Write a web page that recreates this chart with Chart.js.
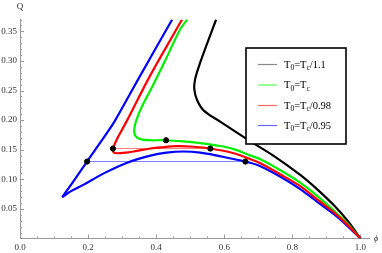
<!DOCTYPE html>
<html>
<head>
<meta charset="utf-8">
<script src="https://cdn.jsdelivr.net/npm/chart.js@4"></script>
<style>
  html, body { margin: 0; padding: 0; background: #fff; }
  canvas { display: block; }
</style>
</head>
<body>
<canvas id="phaseChart" width="382" height="253"></canvas>
<script>
// axis ticks
const phiTicks = [0, 0.2, 0.4, 0.6, 0.8, 1.0];
const qTicks = [0.05, 0.1, 0.15, 0.2, 0.25, 0.3, 0.35];

// T0 = Tc/1.1
const blackPhi = [0.576, 0.550, 0.525, 0.514, 0.512, 0.520, 0.540, 0.589, 0.618, 0.677, 0.744, 0.824, 0.873, 0.922, 0.962, 1.0];
const blackQ   = [0.370, 0.330, 0.290, 0.268, 0.252, 0.234, 0.216, 0.197, 0.186, 0.164, 0.140, 0.107, 0.083, 0.056, 0.030, 0];

// T0 = Tc
const greenPhi = [0.491, 0.469, 0.430, 0.388, 0.360, 0.345, 0.337, 0.336, 0.343, 0.360, 0.383, 0.429, 0.480, 0.530, 0.580, 0.628, 0.677, 0.706, 0.775, 0.824, 0.873, 0.922, 0.962, 1.0];
const greenQ   = [0.370, 0.352, 0.305, 0.256, 0.225, 0.205, 0.190, 0.178, 0.171, 0.167, 0.166, 0.166, 0.164, 0.161, 0.157, 0.151, 0.140, 0.134, 0.112, 0.094, 0.072, 0.047, 0.025, 0];

// T0 = Tc/0.98
const redPhi = [0.476, 0.462, 0.383, 0.315, 0.300, 0.285, 0.275, 0.273, 0.276, 0.285, 0.310, 0.334, 0.383, 0.413, 0.462, 0.510, 0.559, 0.628, 0.677, 0.706, 0.775, 0.824, 0.873, 0.922, 0.962, 1.0];
const redQ   = [0.370, 0.356, 0.276, 0.200, 0.184, 0.168, 0.155, 0.149, 0.145, 0.144, 0.145, 0.147, 0.152, 0.154, 0.156, 0.155, 0.152, 0.144, 0.134, 0.127, 0.105, 0.088, 0.066, 0.044, 0.023, 0];

// T0 = Tc/0.95 (two branches meeting at the cusp)
const blueUpperPhi = [0.447, 0.354, 0.280, 0.261, 0.197, 0.160, 0.124];
const blueUpperQ   = [0.370, 0.276, 0.200, 0.183, 0.130, 0.099, 0.070];
const blueLowerPhi = [0.124, 0.150, 0.187, 0.246, 0.315, 0.383, 0.430, 0.481, 0.530, 0.579, 0.662, 0.706, 0.775, 0.824, 0.873, 0.922, 0.962, 1.0];
const blueLowerQ   = [0.070, 0.080, 0.091, 0.110, 0.128, 0.140, 0.145, 0.147, 0.145, 0.140, 0.130, 0.122, 0.101, 0.083, 0.062, 0.041, 0.021, 0];

// equal-area tie lines and marked points
const redTiePhi = [0.273, 0.559];
const redTieQ = [0.152, 0.152];
const blueTiePhi = [0.197, 0.662];
const blueTieQ = [0.130, 0.130];
const dotPhi = [0.197, 0.662, 0.273, 0.559, 0.429];
const dotQ   = [0.130, 0.130, 0.152, 0.152, 0.166];

const legendLabels = [
	["T", "0", "=T", "c", "/1.1"],
	["T", "0", "=T", "c", ""],
	["T", "0", "=T", "c", "/0.98"],
	["T", "0", "=T", "c", "/0.95"],
];
const legendColors = ["#888888", "#55ff55", "#ff6666", "#6666ff"];

const pts = (xs, ys) => xs.map((x, i) => ({ x: x, y: ys[i] }));
const serif = "'Liberation Serif', 'DejaVu Serif', serif";

const curve = (data, color, order) => ({
	data: data,
	borderColor: color,
	borderWidth: 2.2,
	showLine: true,
	pointRadius: 0,
	tension: 0.35,
	order: order,
});

// inward ticks, legend box and axis names
const decor = {
	id: "decor",
	beforeDatasetsDraw(chart) {
		const { ctx, scales } = chart;
		const x = scales.x, y = scales.y;
		const x0 = x.getPixelForValue(0), y0 = y.getPixelForValue(0);
		ctx.save();
		ctx.strokeStyle = "#9a9a9a";
		ctx.lineWidth = 1;
		ctx.beginPath();
		for (let i = 0; i <= 20; i++) {
			const px = Math.round(x.getPixelForValue(i * 0.05)) + 0.5;
			const len = i % 4 === 0 ? 4 : 2;
			ctx.moveTo(px, y0);
			ctx.lineTo(px, y0 - len);
		}
		for (let i = 1; i <= 37; i++) {
			const py = Math.round(y.getPixelForValue(i * 0.01)) + 0.5;
			const len = i % 5 === 0 ? 4 : 2;
			ctx.moveTo(x0, py);
			ctx.lineTo(x0 + len, py);
		}
		ctx.stroke();
		ctx.restore();
	},
	afterDraw(chart) {
		const { ctx, scales } = chart;
		ctx.save();
		// axis names
		ctx.fillStyle = "#222";
		ctx.font = "9px " + serif;
		ctx.textAlign = "center";
		ctx.textBaseline = "middle";
		ctx.fillText("Q", scales.x.getPixelForValue(0), 7);
		ctx.font = "italic 8px " + serif;
		ctx.fillText("ϕ", 376, 239);

		// legend box
		ctx.fillStyle = "#fff";
		ctx.fillRect(246, 48, 100, 96);
		ctx.strokeStyle = "#000";
		ctx.lineWidth = 1.6;
		ctx.strokeRect(246, 48, 100, 96);
		const rows = [64, 84.5, 105, 125];
		legendLabels.forEach((parts, i) => {
			const ry = rows[i];
			ctx.strokeStyle = legendColors[i];
			ctx.lineWidth = 1.2;
			ctx.beginPath();
			ctx.moveTo(258, ry + 0.5);
			ctx.lineTo(277, ry + 0.5);
			ctx.stroke();
			ctx.fillStyle = "#000";
			ctx.textAlign = "left";
			ctx.textBaseline = "alphabetic";
			let tx = 284;
			parts.forEach((p, j) => {
				const sub = j % 2 === 1;
				ctx.font = (sub ? "7.5px " : "10.5px ") + serif;
				ctx.fillText(p, tx, ry + (sub ? 6 : 3.5));
				tx += ctx.measureText(p).width;
			});
		});
		ctx.restore();
	},
};

new Chart(document.getElementById("phaseChart"), {
	type: "scatter",
	data: {
		datasets: [
			{
				data: pts(dotPhi, dotQ),
				backgroundColor: "#000",
				borderColor: "#000",
				pointRadius: 2.6,
				showLine: false,
				order: 0,
			},
			curve(pts(redPhi, redQ), "#ff0000", 1),
			curve(pts(blueUpperPhi, blueUpperQ), "#0000ff", 2),
			curve(pts(blueLowerPhi, blueLowerQ), "#0000ff", 2),
			curve(pts(greenPhi, greenQ), "#00f000", 3),
			curve(pts(blackPhi, blackQ), "#000000", 4),
			{
				data: pts(redTiePhi, redTieQ),
				borderColor: "rgba(255, 70, 70, 0.7)",
				borderWidth: 1,
				showLine: true,
				pointRadius: 0,
				order: 5,
			},
			{
				data: pts(blueTiePhi, blueTieQ),
				borderColor: "rgba(70, 70, 255, 0.7)",
				borderWidth: 1,
				showLine: true,
				pointRadius: 0,
				order: 5,
			},
		],
	},
	options: {
		responsive: false,
		animation: false,
		devicePixelRatio: 1,
		layout: { padding: { left: 0, right: 13, top: 19.5, bottom: 0 } },
		plugins: { legend: { display: false }, tooltip: { enabled: false } },
		scales: {
			x: {
				type: "linear",
				min: 0,
				max: 1.025,
				grid: { display: false, drawTicks: false },
				border: { display: true, color: "#9a9a9a", width: 1 },
				ticks: {
					padding: 3.5,
					color: "#333",
					font: { family: serif, size: 9 },
					callback: (v) => v.toFixed(1),
				},
				afterBuildTicks: (s) => { s.ticks = phiTicks.map((v) => ({ value: v })); },
				afterFit: (s) => { s.height = 14.5; },
			},
			y: {
				type: "linear",
				min: 0,
				max: 0.37,
				grid: { display: false, drawTicks: false },
				border: { display: true, color: "#9a9a9a", width: 1 },
				ticks: {
					padding: 3,
					color: "#333",
					font: { family: serif, size: 9 },
					callback: (v) => v.toFixed(2),
				},
				afterBuildTicks: (s) => { s.ticks = qTicks.map((v) => ({ value: v })); },
				afterFit: (s) => { s.width = 20; },
			},
		},
	},
	plugins: [decor],
});
</script>
</body>
</html>
